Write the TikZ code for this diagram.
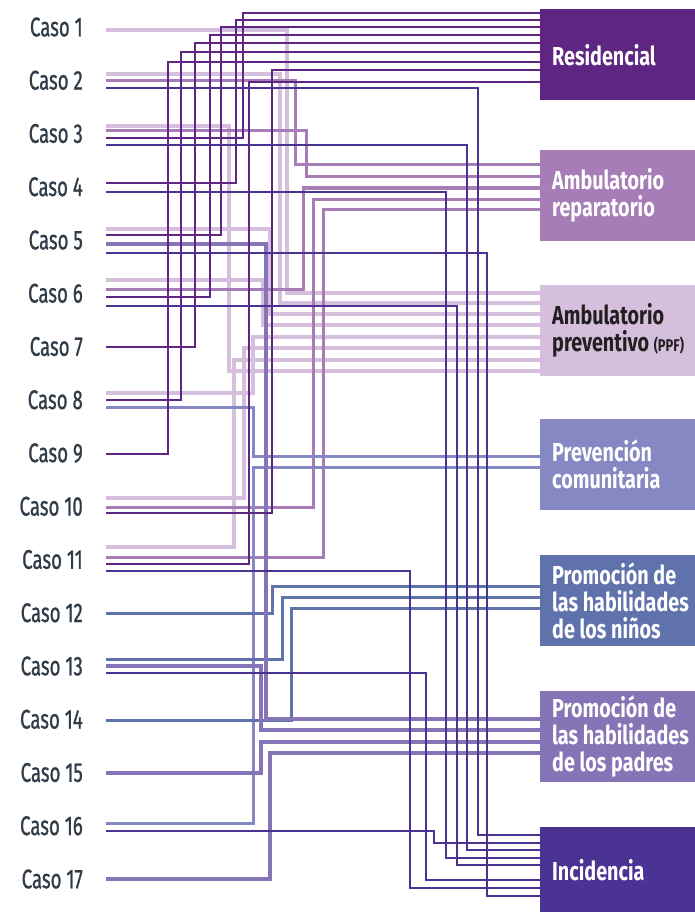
\documentclass[tikz,border=0pt]{standalone}
\usepackage{fontspec}
\setmainfont[FakeStretch=0.72]{Fira Sans}
\newfontfamily\lblfam[FakeStretch=0.69, FakeBold=0.9]{Fira Sans}
\newfontfamily\bxfam[FakeStretch=0.76]{Fira Sans}
\definecolor{cRes}{HTML}{5E2583}
\definecolor{cRep}{HTML}{A67DB6}
\definecolor{cPrev}{HTML}{D5BFDD}
\definecolor{cCom}{HTML}{8588C2}
\definecolor{cNin}{HTML}{6072AC}
\definecolor{cPad}{HTML}{8675B6}
\definecolor{cInc}{HTML}{4A3393}
\definecolor{cLbl}{HTML}{2F3B47}
\definecolor{cDark}{HTML}{231F20}
\newcommand\casefont{\lblfam\fontsize{27}{29}\selectfont}
\newcommand\bxfont{\bxfam\fontsize{26}{27}\selectfont\bfseries}
\tikzset{
  caselbl/.style={anchor=east, inner sep=0pt, font=\casefont, text=cLbl},
  boxn/.style={anchor=north west, minimum width=155pt, minimum height=91pt, inner sep=0pt},
  bxtxt/.style={anchor=west, inner sep=0pt, xshift=12pt, align=left, font=\bxfont, text=white},
  ln/.style={line join=miter, line cap=butt},
  lnRes/.style={ln, draw=cRes, line width=2.4pt},
  lnRep/.style={ln, draw=cRep, line width=3pt},
  lnPrev/.style={ln, draw=cPrev, line width=3.4pt},
  lnCom/.style={ln, draw=cCom, line width=3pt},
  lnNin/.style={ln, draw=cNin, line width=3pt},
  lnPad/.style={ln, draw=cPad, line width=3.2pt},
  lnInc/.style={ln, draw=cInc, line width=2.4pt},
}
\begin{document}
\begin{tikzpicture}[x=1pt,y=-1pt]
\useasboundingbox (0,0) rectangle (695,912);
% case labels
\foreach \i in {1,...,17}{
  \node[caselbl] (c\i) at (83,{27+(\i-1)*53.25}) {Caso \i};
}
% destination boxes
\node[boxn, fill=cRes] (res) at (540,9) {};
\node[boxn, fill=cRep] (rep) at (540,150) {};
\node[boxn, fill=cPrev] (prev) at (540,285) {};
\node[boxn, fill=cCom] (com) at (540,419) {};
\node[boxn, fill=cNin] (nin) at (540,555) {};
\node[boxn, fill=cPad] (pad) at (540,691) {};
\node[boxn, fill=cInc, minimum height=85pt] (inc) at (540,827) {};
\node[bxtxt] (resT) at (res.west) {Residencial};
\node[bxtxt] (repT) at (rep.west) {Ambulatorio\\reparatorio};
\node[bxtxt, text=cDark] (prevT) at (prev.west) {Ambulatorio\\preventivo {\fontsize{17}{17}\selectfont(PPF)}};
\node[bxtxt] (comT) at (com.west) {Prevención\\comunitaria};
\node[bxtxt] (ninT) at (nin.west) {Promoción de\\las habilidades\\de los niños};
\node[bxtxt] (padT) at (pad.west) {Promoción de\\las habilidades\\de los padres};
\node[bxtxt] (incT) at (inc.west) {Incidencia};
% connectors: start y / vertical x / end y
\foreach \ys/\xv/\ye in {30/287/293, 74/280/303, 229/270/314, 280/263/325,
    393/253/337, 498/244/348, 547/234/360, 126/229/371}
  \draw[lnPrev] (106,\ys) -| (\xv,\ye) -- (prev.west |- 0,\ye);
\foreach \ys/\xv/\ye in {81/295/165, 131/306/177, 289/303/188, 507/313/199, 557/323/209}
  \draw[lnRep] (106,\ys) -| (\xv,\ye) -- (rep.west |- 0,\ye);
\foreach \ys/\xv/\ye in {407/253/456, 823/253/467}
  \draw[lnCom] (106,\ys) -| (\xv,\ye) -- (com.west |- 0,\ye);
\foreach \ys/\xv/\ye in {613/272/586, 659/282/597, 720/291/608}
  \draw[lnNin] (106,\ys) -| (\xv,\ye) -- (nin.west |- 0,\ye);
\foreach \ys/\xv/\ye in {244/266/719, 666/261/730, 773/261/742, 879/270/753}
  \draw[lnPad] (106,\ys) -| (\xv,\ye) -- (pad.west |- 0,\ye);
\foreach \ys/\xv/\ye in {138/243/13, 183/236/20, 235/221/27, 297/210/35, 347/195/43,
    400/181/52, 454/168/62, 513/272/70, 564/249/82}
  \draw[lnRes] (106,\ys) -| (\xv,\ye) -- (res.west |- 0,\ye);
\foreach \ys/\xv/\ye in {88/478/835, 831/434/843, 145/467/850, 192/446/858,
    306/457/865, 673/426/880, 571/410/888, 253/487/896}
  \draw[lnInc] (106,\ys) -| (\xv,\ye) -- (inc.west |- 0,\ye);
\end{tikzpicture}
\end{document}
